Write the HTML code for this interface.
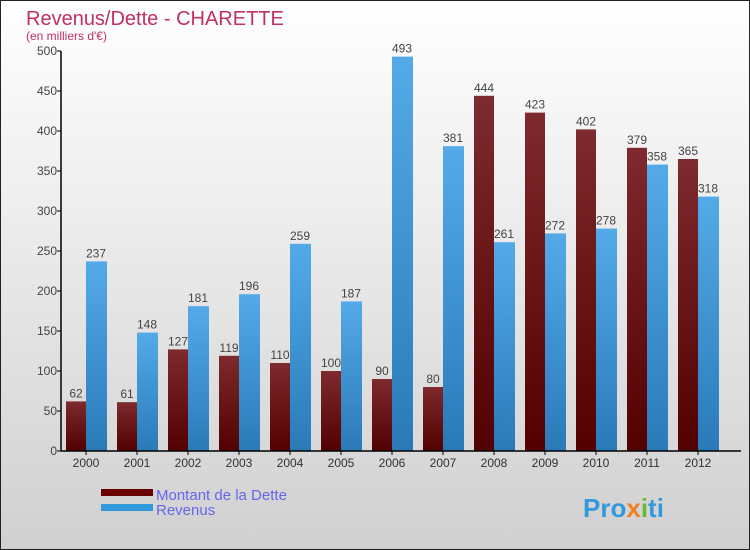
<!DOCTYPE html>
<html><head><meta charset="utf-8"><style>
body{margin:0;}
#c{width:748px;height:548px;border:1px solid #222;background:linear-gradient(#fff,#d0d0d0);position:relative;font-family:"Liberation Sans",sans-serif;overflow:hidden}
</style></head><body>
<div id="c">
<svg id="s" width="748" height="548">
<defs>
<linearGradient id="gd" x1="0" y1="0" x2="0" y2="1"><stop offset="0" stop-color="#7e2a2e"/><stop offset="1" stop-color="#520000"/></linearGradient>
<linearGradient id="gr" x1="0" y1="0" x2="0" y2="1"><stop offset="0" stop-color="#54aae8"/><stop offset="1" stop-color="#2a7ab8"/></linearGradient>
</defs>
<text x="25" y="24" font-size="20" fill="#c03060">Revenus/Dette - CHARETTE</text>
<text x="25" y="39" font-size="12" fill="#c03060">(en milliers d'€)</text>
<g id="bars"></g>
<g id="axes"></g>
<rect x="100" y="488" width="52" height="7" fill="#6a0000"/>
<rect x="100" y="503" width="52" height="7" fill="#3399dd"/>
<text x="155" y="499" font-size="15" fill="#6666ee">Montant de la Dette</text>
<text x="155" y="514" font-size="15" fill="#6666ee">Revenus</text>
<text x="582" y="516" font-size="26" font-weight="bold" fill="#3399dd">Pro<tspan fill="#f08020">x</tspan><tspan fill="#66bb33">i</tspan>ti</text>
</svg></div>
<script>
const years=["2000","2001","2002","2003","2004","2005","2006","2007","2008","2009","2010","2011","2012"];
const dette=[62,61,127,119,110,100,90,80,444,423,402,379,365];
const revenus=[237,148,181,196,259,187,493,381,261,272,278,358,318];
const ticks=[0,50,100,150,200,250,300,350,400,450,500];
const NS="http://www.w3.org/2000/svg";
const x0=60,step=51,y=v=>450-v*0.8,cx=i=>x0+25+i*step;
function mk(t,a,p){const e=document.createElementNS(NS,t);for(const k in a)e.setAttribute(k,a[k]);p.appendChild(e);return e;}
const B=document.getElementById('bars'),A=document.getElementById('axes');
years.forEach((yr,i)=>{
 const c=cx(i);
 let r=mk('rect',{x:c-20,y:y(dette[i]),width:20,height:450-y(dette[i]),fill:'url(#gd)'},B);
 
 
 let r2=mk('rect',{x:c,y:y(revenus[i]),width:21,height:450-y(revenus[i]),fill:'url(#gr)'},B);
 
 
 let t=mk('text',{x:c-10,y:y(dette[i])-4,'font-size':12,fill:'#444','text-anchor':'middle'},B);t.textContent=dette[i];
 
 
 let t2=mk('text',{x:c+10,y:y(revenus[i])-4,'font-size':12,fill:'#444','text-anchor':'middle'},B);t2.textContent=revenus[i];
 
 
 let xl=mk('text',{x:c,y:466,'font-size':12,fill:'#333','text-anchor':'middle'},A);xl.textContent=yr;
 
 
 mk('line',{x1:c,x2:c,y1:450,y2:454,stroke:'#000'},A);
});
mk('line',{x1:x0,x2:x0,y1:50,y2:450,stroke:'#000','stroke-width':1.5},A);
mk('line',{x1:x0,x2:740,y1:450,y2:450,stroke:'#000','stroke-width':1.5},A);
ticks.forEach(v=>{
 mk('line',{x1:x0-4,x2:x0,y1:y(v),y2:y(v),stroke:'#000'},A);
 let t=mk('text',{x:x0-4,y:y(v)+4,'font-size':12,fill:'#444','text-anchor':'end'},A);t.textContent=v;
 
 
});
</script>
</body></html>
